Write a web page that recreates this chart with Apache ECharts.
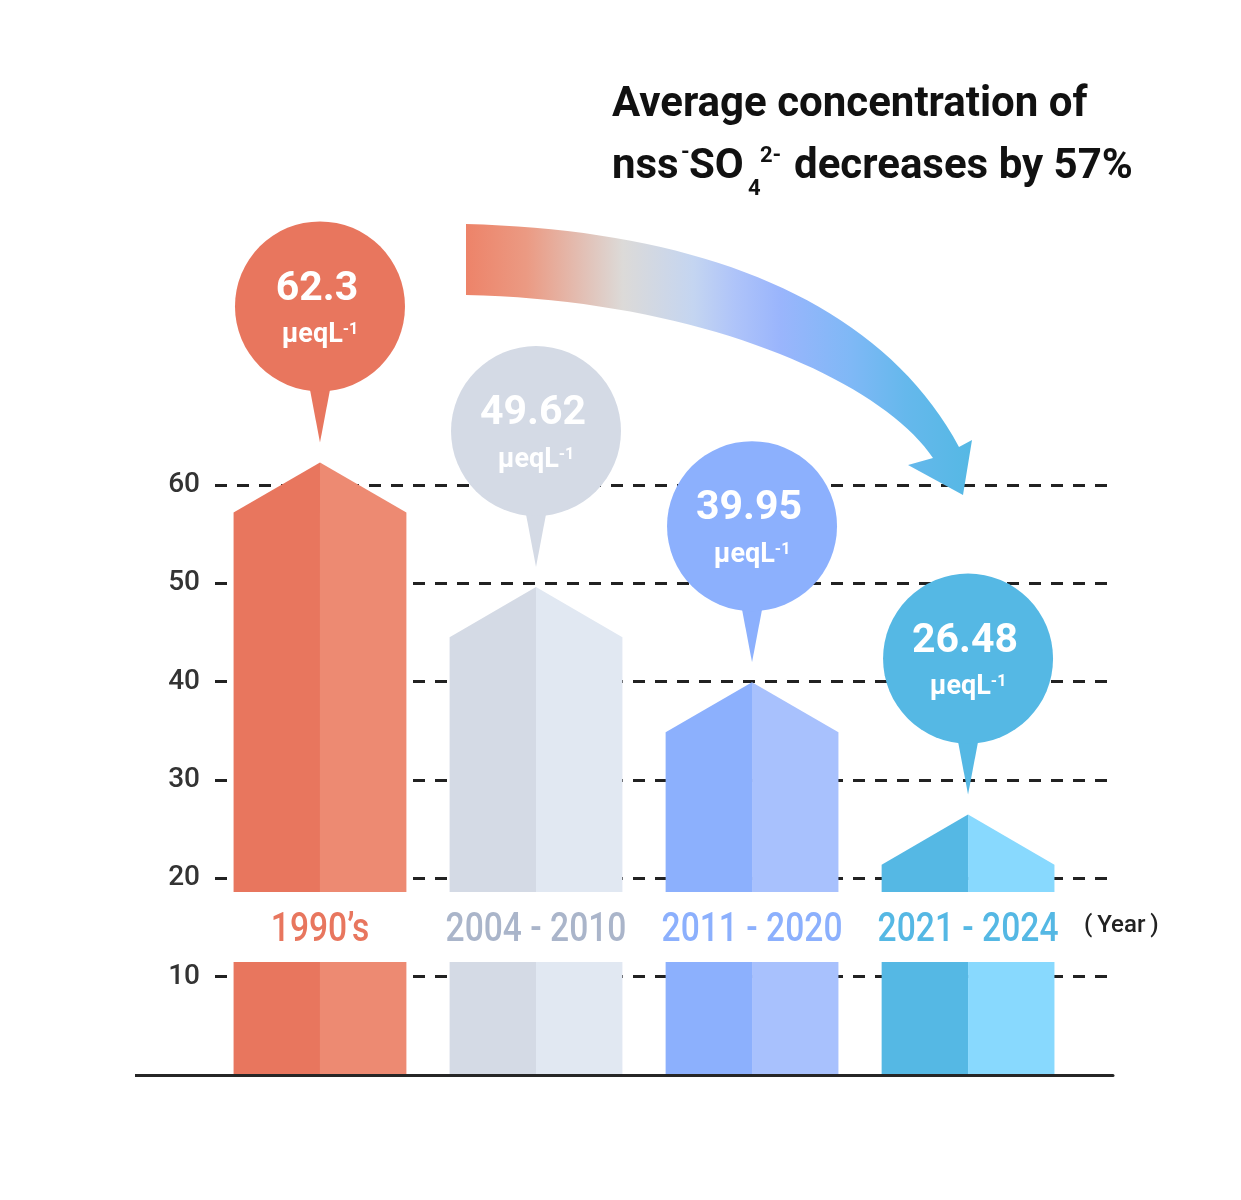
<!DOCTYPE html>
<html>
<head>
<meta charset="utf-8">
<title>nss-SO4 2- concentration</title>
<script src="https://cdn.jsdelivr.net/npm/echarts@6/dist/echarts.min.js"></script>
<style>
html, body { margin: 0; padding: 0; background: #fff; }
#chart { width: 1241px; height: 1200px; }
</style>
</head>
<body>
<div id="chart"></div>
<script>
// data
var periods = ['1990’s', '2004 - 2010', '2011 - 2020', '2021 - 2024'];
var concentrations = [62.3, 49.62, 39.95, 26.48];
var yMax = 60;
var yStep = 10;

// styles
var darkColors = ['#e8765e', '#d4dae5', '#8cb0fd', '#55b8e4'];
var lightColors = ['#ed8a72', '#e1e8f2', '#a8c1fd', '#88d9fe'];
var labelColors = ['#e8765e', '#aab5ca', '#8cb0fd', '#55b8e4'];
var FONT = 'Roboto, "Noto Sans", sans-serif';
var BREAK = [11.5, 18.6]; // white band where the year labels sit

var barData = concentrations.map(function (v, i) { return [i, v]; });

function renderBar(params, api) {
    var i = api.value(0);
    var top = api.coord([i, api.value(1)]);
    var base = api.coord([i, 0]);
    var cx = top[0];
    var hw = api.size([0.4, 0])[0];
    var gapLo = api.coord([i, BREAK[0]])[1];
    var gapHi = api.coord([i, BREAK[1]])[1];
    var mid = api.coord([i, (BREAK[0] + BREAK[1]) / 2])[1];
    var peak = top[1];
    var shoulder = peak + hw * 0.58;
    return {
        type: 'group',
        children: [
            {type: 'rect', shape: {x: cx - hw, y: gapLo, width: hw, height: base[1] - gapLo}, style: {fill: darkColors[i]}},
            {type: 'rect', shape: {x: cx, y: gapLo, width: hw, height: base[1] - gapLo}, style: {fill: lightColors[i]}},
            {type: 'polygon', shape: {points: [[cx - hw, gapHi], [cx - hw, shoulder], [cx, peak], [cx, gapHi]]}, style: {fill: darkColors[i]}},
            {type: 'polygon', shape: {points: [[cx, gapHi], [cx, peak], [cx + hw, shoulder], [cx + hw, gapHi]]}, style: {fill: lightColors[i]}},
            {
                type: 'text', x: cx, y: mid + 4, scaleX: 0.84,
                style: {
                    text: periods[i], fill: labelColors[i], fontSize: 40, fontWeight: 500,
                    fontFamily: FONT, align: 'center', verticalAlign: 'middle'
                }
            }
        ]
    };
}

function renderBubble(params, api) {
    var i = api.value(0);
    var v = api.value(1);
    var p = api.coord([i, v]);
    var cx = p[0];
    var tip = p[1] - 20;
    var cy = p[1] - 156;
    var r = 85;
    return {
        type: 'group',
        children: [
            {type: 'polygon', shape: {points: [[cx - 11, cy + 78], [cx + 11, cy + 78], [cx, tip]]}, style: {fill: darkColors[i]}},
            {type: 'circle', shape: {cx: cx, cy: cy, r: r}, style: {fill: darkColors[i]}},
            {
                type: 'text', x: cx - 3, y: cy - 17,
                style: {
                    text: String(v), fill: '#fff', fontSize: 41, fontWeight: 'bold',
                    fontFamily: FONT, align: 'center', verticalAlign: 'middle'
                }
            },
            {
                type: 'text', x: cx, y: cy + 29,
                style: {
                    text: '{u|μeqL}{s|-1}', align: 'center', verticalAlign: 'middle',
                    rich: {
                        u: {fill: '#fff', fontSize: 27, fontWeight: 'bold', fontFamily: FONT},
                        s: {fill: '#fff', fontSize: 16, fontWeight: 'bold', fontFamily: FONT, verticalAlign: 'top'}
                    }
                }
            }
        ]
    };
}

// curved arrow outline, sampled from two cubic curves
function cubic(p0, p1, p2, p3, n) {
    var pts = [];
    for (var k = 0; k <= n; k++) {
        var t = k / n, u = 1 - t;
        pts.push([
            u * u * u * p0[0] + 3 * u * u * t * p1[0] + 3 * u * t * t * p2[0] + t * t * t * p3[0],
            u * u * u * p0[1] + 3 * u * u * t * p1[1] + 3 * u * t * t * p2[1] + t * t * t * p3[1]
        ]);
    }
    return pts;
}
var arrowPts = cubic([466, 224], [700, 230], [880, 300], [959, 447], 40)
    .concat([[972, 440], [963, 495], [908, 465]])
    .concat(cubic([933, 458], [880, 380], [700, 300], [466, 295], 40));

var titleStyle = {fill: '#111', fontSize: 42, fontWeight: 'bold', fontFamily: FONT, verticalAlign: 'middle'};
var smallStyle = {fill: '#111', fontSize: 22, fontWeight: 'bold', fontFamily: FONT, verticalAlign: 'middle'};
function txt(x, y, s, base) {
    return {type: 'text', x: x, y: y, style: Object.assign({}, base, {text: s})};
}

var _chart = echarts.init(document.getElementById('chart'));
var option = {
    animation: false,
    grid: {left: 215, right: 128, top: 485, bottom: 125},
    xAxis: {
        type: 'value',
        min: -0.486,
        max: 3.671,
        z: 5,
        axisLine: {show: true, onZero: false, lineStyle: {color: '#262626', width: 3}},
        axisTick: {show: false},
        axisLabel: {show: false},
        splitLine: {show: false}
    },
    yAxis: {
        type: 'value',
        min: 0,
        max: yMax,
        interval: yStep,
        axisLine: {show: false},
        axisTick: {show: false},
        axisLabel: {
            fontSize: 28,
            color: '#333',
            fontFamily: FONT,
            fontWeight: 500,
            margin: 15,
            formatter: function (v) { return v === 0 ? '' : v; }
        },
        splitLine: {lineStyle: {color: '#222', width: 3, type: [12, 10]}}
    },
    graphic: [
        // left stub of the base line
        {type: 'line', shape: {x1: 135, y1: 1075.5, x2: 217, y2: 1075.5}, style: {stroke: '#262626', lineWidth: 3}, z: 5},
        // gradient arrow
        {
            type: 'polygon',
            z: 1,
            shape: {points: arrowPts},
            style: {
                fill: {
                    type: 'linear', x: 0, y: 0, x2: 1, y2: 0,
                    colorStops: [
                        {offset: 0, color: '#ed8369'},
                        {offset: 0.12, color: '#eb9a83'},
                        {offset: 0.31, color: '#dcdad8'},
                        {offset: 0.45, color: '#c4d5f1'},
                        {offset: 0.53, color: '#afc4f9'},
                        {offset: 0.62, color: '#9ab5fc'},
                        {offset: 0.76, color: '#7fb8f6'},
                        {offset: 0.87, color: '#65b8ec'},
                        {offset: 1, color: '#55b8e4'}
                    ]
                }
            }
        },
        txt(612, 105, 'Average concentration of', titleStyle),
        txt(612, 167, 'nss', titleStyle),
        txt(681, 153, '-', smallStyle),
        txt(689, 167, 'SO', titleStyle),
        txt(748, 189, '4', smallStyle),
        txt(760, 156, '2-', smallStyle),
        txt(794, 167, 'decreases by 57%', titleStyle),
        {
            type: 'text', x: 1084, y: 926,
            style: {text: '(\u2009Year\u2009)', fill: '#222', fontSize: 24, fontWeight: 500, fontFamily: FONT, verticalAlign: 'middle'}
        }
    ],
    series: [
        {
            type: 'custom',
            name: 'bars',
            z: 2,
            renderItem: renderBar,
            data: barData
        },
        {
            type: 'custom',
            name: 'bubbles',
            z: 3,
            renderItem: renderBubble,
            data: barData
        }
    ]
};
_chart.setOption(option);
</script>
</body>
</html>
